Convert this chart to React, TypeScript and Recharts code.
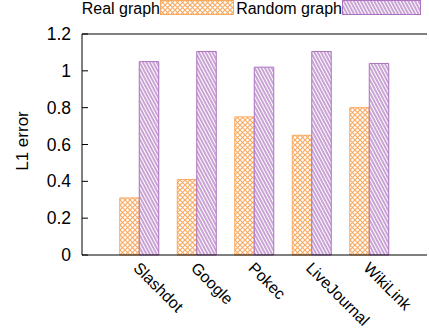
import { BarChart, Bar, XAxis, YAxis, ReferenceLine } from 'recharts';

const categories = ['Slashdot', 'Google', 'Pokec', 'LiveJournal', 'WikiLink'];
const realGraph = [0.31, 0.41, 0.75, 0.65, 0.8];
const randomGraph = [1.05, 1.105, 1.02, 1.105, 1.04];
const yTicks = [0, 0.2, 0.4, 0.6, 0.8, 1, 1.2];

const ORANGE = '#f9a95e';
const PURPLE = '#ad72bf';
const FONT = '"Liberation Sans", Arial, sans-serif';

const data = categories.map((name, i) => ({
  name,
  real: realGraph[i],
  random: randomGraph[i],
}));

function LeftTick({ x, y, payload }: any) {
  return (
    <g>
      <line x1={x + 8} x2={x + 14} y1={y} y2={y} stroke="#000" />
      <text x={x - 3} y={y} dy={6} textAnchor="end" fontSize={17.5} fontFamily={FONT} fill="#000">
        {payload.value}
      </text>
    </g>
  );
}

function RightTick({ x, y }: any) {
  return <line x1={x - 8} x2={x - 14} y1={y} y2={y} stroke="#000" />;
}

function BottomTick({ x, y, payload }: any) {
  return (
    <text
      x={x - 7}
      y={y + 6}
      transform={`rotate(45 ${x - 7} ${y + 6})`}
      textAnchor="start"
      fontSize={16}
      fontFamily={FONT}
      fill="#000"
    >
      {payload.value}
    </text>
  );
}

function Patterns() {
  return (
    <svg width={0} height={0} style={{ position: 'absolute' }}>
      <defs>
        <pattern id="cross" width={5} height={5} patternUnits="userSpaceOnUse">
          <rect width={5} height={5} fill="#fff" />
          <path d="M0,0 L5,5 M0,5 L5,0" stroke={ORANGE} strokeWidth={1.1} />
        </pattern>
        <pattern id="stripe" width={3} height={10} patternUnits="userSpaceOnUse" patternTransform="rotate(-28)">
          <rect width={3} height={10} fill="#fff" />
          <line x1={1} y1={0} x2={1} y2={10} stroke={PURPLE} strokeWidth={1.3} />
        </pattern>
      </defs>
    </svg>
  );
}

function LegendBox() {
  const text: React.CSSProperties = {
    position: 'absolute',
    top: 1,
    fontSize: 16,
    fontFamily: FONT,
    color: '#000',
    textAlign: 'right',
    lineHeight: '15px',
    whiteSpace: 'nowrap',
  };
  const box: React.CSSProperties = { position: 'absolute', top: 0 };
  return (
    <>
      <div style={{ ...text, left: 0, width: 160 }}>Real graph</div>
      <svg style={{ ...box, left: 160 }} width={74} height={15}>
        <rect x={0.5} y={0.5} width={73} height={14} fill="url(#cross)" stroke={ORANGE} />
      </svg>
      <div style={{ ...text, left: 160, width: 182 }}>Random graph</div>
      <svg style={{ ...box, left: 342 }} width={79} height={15}>
        <rect x={0.5} y={0.5} width={78} height={14} fill="url(#stripe)" stroke={PURPLE} />
      </svg>
    </>
  );
}

export default function App() {
  return (
    <div style={{ position: 'absolute', left: 0, top: 0, width: 429, height: 333, background: '#fff' }}>
      <Patterns />
      <LegendBox />
      <div
        style={{
          position: 'absolute',
          left: 23,
          top: 141,
          transform: 'translate(-50%, -50%) rotate(-90deg)',
          fontSize: 17,
          fontFamily: FONT,
          whiteSpace: 'nowrap',
        }}
      >
        L1 error
      </div>
      <BarChart
        width={429}
        height={333}
        data={data}
        margin={{ top: 34, right: 2, left: 42, bottom: 18 }}
        barGap={0}
        barSize={19.5}
      >
        <XAxis
          dataKey="name"
          height={60}
          axisLine={{ stroke: '#000' }}
          tickLine={false}
          padding={{ left: 28.75, right: 28.75 }}
          interval={0}
          tick={<BottomTick />}
        />
        <YAxis
          width={40}
          domain={[0, 1.2]}
          ticks={yTicks}
          axisLine={{ stroke: '#000' }}
          tickLine={false}
          tick={<LeftTick />}
        />
        <YAxis
          yAxisId="r"
          orientation="right"
          width={0}
          domain={[0, 1.2]}
          ticks={yTicks}
          axisLine={{ stroke: '#000' }}
          tickLine={false}
          tick={<RightTick />}
        />
        <ReferenceLine y={1.2} stroke="#000" />
        <Bar dataKey="real" fill="url(#cross)" stroke={ORANGE} strokeWidth={1} isAnimationActive={false} />
        <Bar dataKey="random" fill="url(#stripe)" stroke={PURPLE} strokeWidth={1} isAnimationActive={false} />
      </BarChart>
    </div>
  );
}
